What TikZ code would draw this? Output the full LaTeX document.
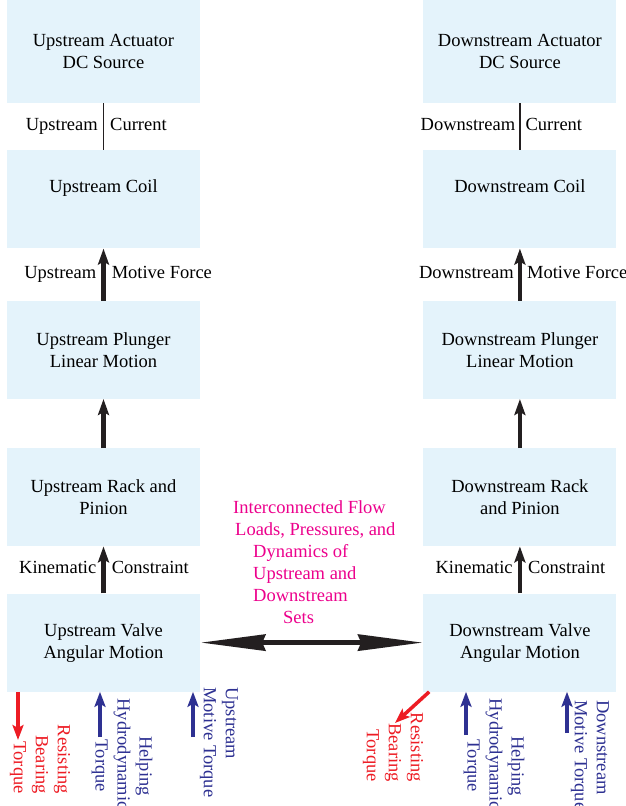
\documentclass[tikz,border=0pt]{standalone}
\usepackage{fontspec}
\setmainfont{Liberation Serif}
\usepackage{tikz}
\usetikzlibrary{arrows.meta,positioning}

\definecolor{boxblue}{RGB}{228,243,251}
\definecolor{arrowblack}{RGB}{35,31,32}
\definecolor{flowpink}{RGB}{236,0,140}
\definecolor{torquered}{RGB}{237,28,36}
\definecolor{torqueblue}{RGB}{46,49,146}

\newcommand{\diagfont}{\fontsize{18.5}{22}\selectfont}

\tikzset{
  blockbox/.style={fill=boxblue, minimum width=193pt, minimum height=98pt, inner sep=0pt, align=center, font=\diagfont},
  linklabel/.style={inner sep=0pt, text height=12pt, text depth=4pt, font=\diagfont},
  feedline/.style={line width=1.4pt, draw=arrowblack},
  forcearrow/.style={line width=4.5pt, draw=arrowblack, -{Stealth[length=16pt,width=11pt,inset=3pt]}},
  flowarrow/.style={line width=5pt, draw=arrowblack, {Stealth[length=65pt,width=16pt,inset=3pt]}-{Stealth[length=65pt,width=16pt,inset=3pt]}},
  torquearrow/.style={line width=3.5pt, -{Stealth[length=15pt,width=11pt,inset=3pt]}},
  torquetext/.style={rotate=-90, inner sep=0pt, font=\diagfont}
}

\begin{document}
\begin{tikzpicture}[x=1pt,y=-1pt]
\useasboundingbox (0,0) rectangle (626,806);

% upstream set
\node[blockbox, minimum height=103pt] (uacsrc) at (103.5,51.5) {Upstream Actuator\\DC Source};
\node[blockbox, below=47pt of uacsrc, text depth=26pt] (ucoil) {Upstream Coil};
\node[blockbox, below=52pt of ucoil] (uplunger) {Upstream Plunger\\Linear Motion};
\node[blockbox, below=49pt of uplunger] (urack) {Upstream Rack and\\Pinion};
\node[blockbox, below=47pt of urack] (uvalve) {Upstream Valve\\Angular Motion};

% downstream set
\node[blockbox, minimum height=103pt, right=223pt of uacsrc] (dacsrc) {Downstream Actuator\\DC Source};
\node[blockbox, right=223pt of ucoil, text depth=26pt] (dcoil) {Downstream Coil};
\node[blockbox, right=223pt of uplunger] (dplunger) {Downstream Plunger\\Linear Motion};
\node[blockbox, right=223pt of urack] (drack) {Downstream Rack\\and Pinion};
\node[blockbox, right=223pt of uvalve] (dvalve) {Downstream Valve\\Angular Motion};

% links in each set
\draw[feedline] (uacsrc) -- (ucoil)
  node[midway, linklabel, left=5pt] {Upstream} node[midway, linklabel, right=6pt] {Current};
\draw[forcearrow] (uplunger) -- (ucoil)
  node[midway, linklabel, left=5pt] {Upstream} node[midway, linklabel, right=6pt] {Motive Force};
\draw[forcearrow] (urack) -- (uplunger);
\draw[forcearrow] (uvalve) -- (urack)
  node[midway, linklabel, left=5pt] {Kinematic} node[midway, linklabel, right=6pt] {Constraint};

\draw[feedline] (dacsrc) -- (dcoil)
  node[midway, linklabel, left=4pt] {Downstream} node[midway, linklabel, right=5pt] {Current};
\draw[forcearrow] (dplunger) -- (dcoil)
  node[midway, linklabel, left=4pt] {Downstream} node[midway, linklabel, right=5pt] {Motive Force};
\draw[forcearrow] (drack) -- (dplunger);
\draw[forcearrow] (dvalve) -- (drack)
  node[midway, linklabel, left=5pt] {Kinematic} node[midway, linklabel, right=6pt] {Constraint};

% coupling between the two sets
\node[font=\diagfont, text=flowpink, align=left, inner sep=0pt, anchor=north west] (flowtext) at (233,500)
  {Interconnected Flow\\\hspace*{2pt}Loads, Pressures, and\\\hspace*{20pt}Dynamics of\\\hspace*{20pt}Upstream and\\\hspace*{20pt}Downstream\\\hspace*{50pt}Sets};
\draw[flowarrow] (uvalve) -- (dvalve);

% torques on the upstream valve
\coordinate (ubear) at (18,740);
\coordinate (uhydro) at (100,737);
\coordinate (umotive) at (193,737);
\draw[torquearrow, torquered] (uvalve.south -| ubear) -- (ubear);
\draw[torquearrow, torqueblue] (uhydro) -- (uhydro |- uvalve.south);
\draw[torquearrow, torqueblue] (umotive) -- (umotive |- uvalve.south);
\node[torquetext, text=torquered, align=right, anchor=east] (ubeartext) at (40,794) {Resisting\\Bearing\\Torque};
\node[torquetext, text=torqueblue, align=center] (uhydrotext) at (122,766) {Helping\\\hspace*{-24pt}Hydrodynamic\\Torque};
\node[torquetext, text=torqueblue, align=left, anchor=west] (umotivetext) at (219,687) {Upstream\\Motive Torque};

% torques on the downstream valve
\coordinate (dbear) at (395,723);
\coordinate (dhydro) at (466,735);
\coordinate (dmotive) at (567,733);
\draw[torquearrow, torquered] ([xshift=6pt]dvalve.south west) -- (dbear);
\draw[torquearrow, torqueblue] (dhydro) -- (dhydro |- dvalve.south);
\draw[torquearrow, torqueblue] (dmotive) -- (dmotive |- dvalve.south);
\node[torquetext, text=torquered, align=right, anchor=east] (dbeartext) at (393,782) {Resisting\\Bearing\\Torque};
\node[torquetext, text=torqueblue, align=center] (dhydrotext) at (494,766) {Helping\\\hspace*{-24pt}Hydrodynamic\\Torque};
\node[torquetext, text=torqueblue, align=left, anchor=west] (dmotivetext) at (590,700) {Downstream\\Motive Torque};
\end{tikzpicture}
\end{document}
